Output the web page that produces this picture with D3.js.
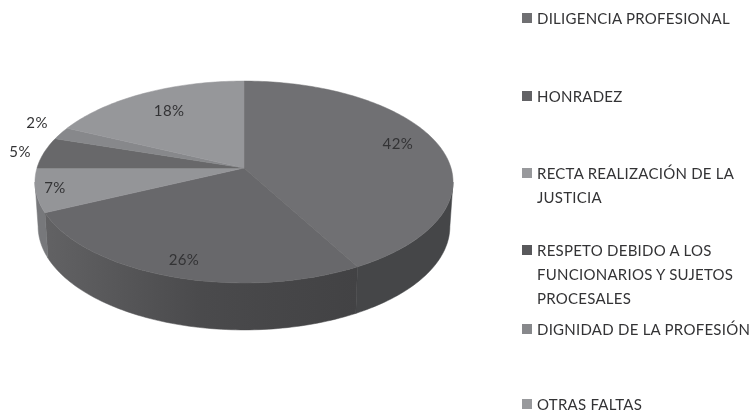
<!DOCTYPE html>
<html>
<head>
<meta charset="utf-8">
<script src="https://cdn.jsdelivr.net/npm/d3@7"></script>
<style>
  html, body { margin: 0; padding: 0; background: #fff; }
  svg { display: block; filter: blur(0.4px); }
  text { font-family: Lato, "Open Sans", sans-serif; fill: #333335; }
</style>
</head>
<body>
<div id="chart"></div>
<script>
const categories = [
  ['DILIGENCIA PROFESIONAL'],
  ['HONRADEZ'],
  ['RECTA REALIZACIÓN DE LA', 'JUSTICIA'],
  ['RESPETO DEBIDO A LOS', 'FUNCIONARIOS Y SUJETOS', 'PROCESALES'],
  ['DIGNIDAD DE LA PROFESIÓN'],
  ['OTRAS FALTAS'],
];
const values = [42, 26, 7, 5, 2, 18];
const topColors = ['#707073', '#68686b', '#949598', '#68686a', '#87888b', '#96979a'];
const wallColors = ['#454648', 'url(#wallFront)', '#77787b', '#434345', '#5c5c5e', '#6d6d70'];
const swatchColors = ['#6f6f72', '#626265', '#98999c', '#58585b', '#87888b', '#98999c'];

// label placement, relative to the slice: radius fraction and turn in degrees
const labelRadius = [0.813, 0.855, 0.909, 1.122, 1.178, 0.749];
const labelTurn = [-4.3, -0.5, 0.7, 0, 3.3, 0.7];
const legendRows = [18, 96, 173, 250, 329, 404];

const WIDTH = 751;
const HEIGHT = 413;
const CX = 244;
const CY = 168;
const SCALE_X = 207;
const SCALE_Y = 99;
const TILT = 0.1386;
const WALL = 44;

const svg = d3.select('#chart').append('svg')
  .attr('width', WIDTH)
  .attr('height', HEIGHT);

const grad = svg.append('defs').append('linearGradient')
  .attr('id', 'wallFront')
  .attr('gradientUnits', 'userSpaceOnUse')
  .attr('x1', 45).attr('x2', 358)
  .attr('y1', 0).attr('y2', 0);
grad.append('stop').attr('offset', 0).attr('stop-color', '#626264');
grad.append('stop').attr('offset', 0.5).attr('stop-color', '#4a4a4c');
grad.append('stop').attr('offset', 1).attr('stop-color', '#424244');

const pie = d3.pie().sort(null);
const slices = pie(values);

// the disc is seen in perspective, so the apex sits above the ellipse centre
function project(angle, r, drop) {
  let X = r * Math.sin(angle);
  let Y = -r * Math.cos(angle);
  let w = 1 - TILT * Y;
  if (drop) {
    return [CX + 0.985 * SCALE_X * X / w, CY + SCALE_Y * Y / w + WALL + 3 * Y];
  }
  return [CX + SCALE_X * X / w, CY + SCALE_Y * Y / w];
}

function arcPoints(a0, a1, drop) {
  let steps = Math.max(2, Math.ceil(Math.abs(a1 - a0) / 0.02));
  return d3.range(steps + 1).map((i) => project(a0 + (a1 - a0) * i / steps, 1, drop));
}

const line = d3.line();
const FRONT_START = 98 * Math.PI / 180;
const FRONT_END = 262 * Math.PI / 180;

const wallGroup = svg.append('g').attr('class', 'walls');
slices.forEach((s, i) => {
  let a0 = Math.max(s.startAngle, FRONT_START);
  let a1 = Math.min(s.endAngle, FRONT_END);
  if (a1 <= a0) return;
  let pts = arcPoints(a0, a1, false).concat(arcPoints(a1, a0, true));
  wallGroup.append('path')
    .attr('d', line(pts) + 'Z')
    .attr('fill', wallColors[i])
    .attr('stroke', wallColors[i])
    .attr('stroke-width', 0.5);
});

const topGroup = svg.append('g').attr('class', 'top');
slices.forEach((s, i) => {
  let pts = [[CX, CY]].concat(arcPoints(s.startAngle, s.endAngle, false));
  topGroup.append('path')
    .attr('d', line(pts) + 'Z')
    .attr('fill', topColors[i])
    .attr('stroke', topColors[i])
    .attr('stroke-width', 0.5);
});

const labelGroup = svg.append('g').attr('class', 'labels');
slices.forEach((s, i) => {
  let mid = (s.startAngle + s.endAngle) / 2 + labelTurn[i] * Math.PI / 180;
  let p = project(mid, labelRadius[i], false);
  labelGroup.append('text')
    .attr('x', p[0])
    .attr('y', p[1])
    .attr('text-anchor', 'middle')
    .attr('dominant-baseline', 'central')
    .attr('font-size', 15)
    .attr('letter-spacing', 0.4)
    .text(values[i] + '%');
});

const legend = svg.append('g').attr('class', 'legend');
categories.forEach((lines, i) => {
  legend.append('rect')
    .attr('x', 522)
    .attr('y', legendRows[i] - 5)
    .attr('width', 10)
    .attr('height', 10)
    .attr('fill', swatchColors[i]);
  lines.forEach((txt, j) => {
    legend.append('text')
      .attr('x', 537)
      .attr('y', legendRows[i] + j * 24)
      .attr('dominant-baseline', 'central')
      .attr('font-size', 15)
      .attr('letter-spacing', 0.25)
      .text(txt);
  });
});
</script>
</body>
</html>
